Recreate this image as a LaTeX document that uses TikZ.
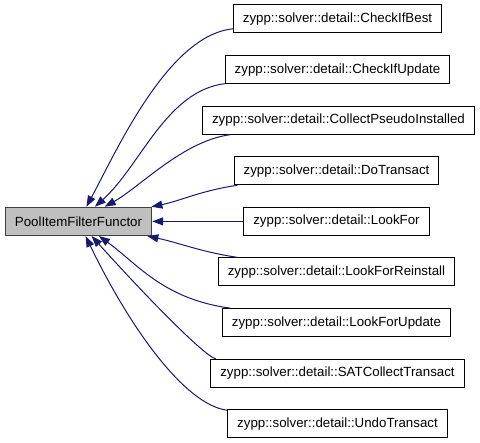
\documentclass[tikz,border=0pt]{standalone}
\usepackage{fontspec}
\setmainfont{Liberation Sans}
\usetikzlibrary{arrows.meta}
\definecolor{edgeblue}{HTML}{191970}
\definecolor{boxgray}{HTML}{BFBFBF}
\definecolor{boxborder}{HTML}{404040}
\begin{document}
\begin{tikzpicture}[x=1pt,y=-1pt,
  font=\fontsize{13.3}{16}\selectfont,
  cls/.style={draw=black,line width=1pt,fill=white,inner xsep=9.5pt,inner ysep=0pt,minimum height=28pt},
  base/.style={draw=boxborder,line width=1.3pt,fill=boxgray,inner xsep=9.5pt,inner ysep=0pt,minimum height=28pt},
  edge/.style={draw=edgeblue,line width=1pt,-{Triangle[length=11pt,width=8pt]}}]
\useasboundingbox (0,0) rectangle (480,443);
\node[base] (p) at (78.5,221.4) {PoolItemFilterFunctor};
\node[cls] (c1) at (337.5,19) {zypp::solver::detail::CheckIfBest};
\node[cls] (c2) at (337.5,69.6) {zypp::solver::detail::CheckIfUpdate};
\node[cls] (c3) at (338.5,120.2) {zypp::solver::detail::CollectPseudoInstalled};
\node[cls] (c4) at (336.5,170.8) {zypp::solver::detail::DoTransact};
\node[cls] (c5) at (336.5,221.4) {zypp::solver::detail::LookFor};
\node[cls] (c6) at (336.5,272) {zypp::solver::detail::LookForReinstall};
\node[cls] (c7) at (336.5,322.6) {zypp::solver::detail::LookForUpdate};
\node[cls] (c8) at (337.5,373.2) {zypp::solver::detail::SATCollectTransact};
\node[cls] (c9) at (337.5,423.8) {zypp::solver::detail::UndoTransact};
\draw[edge] (c1) .. controls (168,35) and (116,152) .. (p);
\draw[edge] (c2) .. controls (166,91) and (140.5,166) .. (p);
\draw[edge] (c3) .. controls (183,141) and (140,187) .. (p);
\draw[edge] (c4) .. controls (201,190.6) and (180,201) .. (p);
\draw[edge] (c5) -- (p);
\draw[edge] (c6) .. controls (201,252) and (180,243) .. (p);
\draw[edge] (c7) .. controls (163,299) and (137,263.4) .. (p);
\draw[edge] (c8) .. controls (205,357.4) and (141,291) .. (p);
\draw[edge] (c9) .. controls (185,405) and (130,328) .. (p);
\end{tikzpicture}
\end{document}
